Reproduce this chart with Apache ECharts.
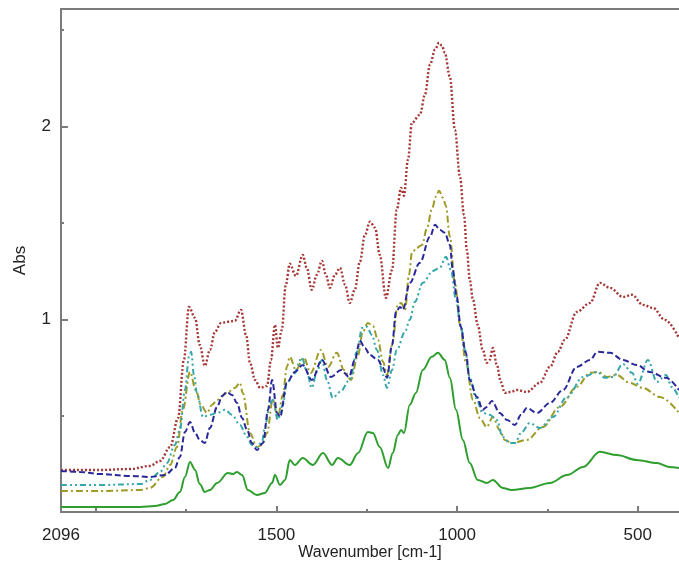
<!DOCTYPE html>
<html>
<head>
<meta charset="utf-8">
<title>Abs spectra</title>
<script src="https://cdn.jsdelivr.net/npm/echarts@6/dist/echarts.min.js"></script>
<style>
  html, body { margin: 0; padding: 0; background: #fff; }
  #chart { width: 679px; height: 562px; }
</style>
</head>
<body>
<div id="chart"></div>
<script>
// [wavenumber, abs] pairs
const redDotted = [
  [2096, 0.218], [1988, 0.218], [1905, 0.223], [1850, 0.239], [1822, 0.265], [1794, 0.337],
  [1772, 0.488], [1756, 0.789], [1742, 1.064], [1725, 1.007], [1712, 0.867], [1698, 0.758],
  [1684, 0.841], [1670, 0.935], [1653, 0.981], [1634, 0.987], [1615, 0.992], [1598, 1.049],
  [1584, 0.919], [1573, 0.774], [1559, 0.685], [1545, 0.644], [1526, 0.654], [1515, 0.789],
  [1504, 0.971], [1496, 0.851], [1485, 0.945], [1474, 1.179], [1463, 1.288], [1446, 1.225],
  [1427, 1.334], [1416, 1.267], [1402, 1.153], [1388, 1.231], [1374, 1.303], [1363, 1.231],
  [1352, 1.163], [1338, 1.231], [1324, 1.267], [1310, 1.179], [1297, 1.085], [1283, 1.153],
  [1269, 1.298], [1255, 1.438], [1241, 1.506], [1227, 1.475], [1214, 1.334], [1197, 1.111],
  [1180, 1.256], [1167, 1.568], [1155, 1.682], [1147, 1.641], [1136, 1.828], [1125, 2.020],
  [1103, 2.061], [1089, 2.165], [1075, 2.321], [1061, 2.399], [1050, 2.435], [1042, 2.420],
  [1034, 2.383], [1020, 2.259], [1006, 1.983], [992, 1.739], [981, 1.542], [973, 1.360],
  [965, 1.205], [956, 1.101], [943, 0.971], [929, 0.841], [918, 0.774], [910, 0.789],
  [901, 0.851], [890, 0.763], [879, 0.675], [868, 0.618], [851, 0.623], [835, 0.633],
  [807, 0.623], [771, 0.670], [743, 0.753], [721, 0.831], [702, 0.893], [669, 1.038],
  [632, 1.085], [605, 1.189], [577, 1.163], [541, 1.116], [516, 1.127], [486, 1.075],
  [458, 1.059], [425, 0.997], [386, 0.903]
];

const oliveDashDot = [
  [2096, 0.109], [1988, 0.109], [1877, 0.114], [1850, 0.125], [1814, 0.182], [1794, 0.244],
  [1775, 0.337], [1759, 0.530], [1739, 0.727], [1723, 0.633], [1709, 0.556], [1692, 0.514],
  [1678, 0.556], [1664, 0.582], [1637, 0.618], [1615, 0.644], [1601, 0.670], [1593, 0.618],
  [1573, 0.410], [1554, 0.337], [1540, 0.348], [1526, 0.410], [1510, 0.582], [1496, 0.493],
  [1482, 0.607], [1471, 0.753], [1463, 0.805], [1446, 0.737], [1424, 0.800], [1405, 0.722],
  [1377, 0.841], [1357, 0.753], [1333, 0.826], [1313, 0.737], [1294, 0.685], [1274, 0.815],
  [1261, 0.935], [1247, 0.981], [1233, 0.966], [1219, 0.893], [1205, 0.779], [1194, 0.711],
  [1180, 0.867], [1164, 1.075], [1155, 1.085], [1144, 1.049], [1133, 1.231], [1125, 1.345],
  [1111, 1.371], [1097, 1.386], [1083, 1.475], [1070, 1.568], [1059, 1.636], [1050, 1.667],
  [1039, 1.630], [1031, 1.589], [1020, 1.428], [1006, 1.189], [992, 0.971], [976, 0.779],
  [956, 0.582], [937, 0.488], [918, 0.441], [901, 0.493], [882, 0.426], [868, 0.374],
  [849, 0.358], [807, 0.374], [763, 0.441], [716, 0.545], [669, 0.649], [632, 0.722],
  [610, 0.727], [585, 0.701], [558, 0.711], [522, 0.670], [486, 0.644], [439, 0.597],
  [386, 0.514]
];

const blueDashed = [
  [2096, 0.213], [2043, 0.208], [1988, 0.197], [1905, 0.187], [1850, 0.182], [1808, 0.192],
  [1781, 0.228], [1767, 0.286], [1753, 0.415], [1739, 0.467], [1725, 0.410], [1712, 0.374],
  [1698, 0.358], [1684, 0.436], [1664, 0.545], [1650, 0.602], [1637, 0.623], [1623, 0.607],
  [1609, 0.566], [1595, 0.488], [1581, 0.426], [1568, 0.358], [1554, 0.322], [1537, 0.358],
  [1523, 0.530], [1512, 0.685], [1498, 0.514], [1490, 0.493], [1471, 0.670], [1449, 0.727],
  [1427, 0.763], [1402, 0.685], [1374, 0.789], [1349, 0.701], [1321, 0.737], [1299, 0.701],
  [1283, 0.789], [1269, 0.888], [1255, 0.851], [1241, 0.815], [1219, 0.789], [1205, 0.748],
  [1194, 0.696], [1180, 0.867], [1169, 1.038], [1158, 1.064], [1150, 1.049], [1131, 1.189],
  [1103, 1.293], [1075, 1.428], [1061, 1.490], [1048, 1.464], [1034, 1.449], [1020, 1.386],
  [1012, 1.256], [1001, 1.116], [990, 0.961], [976, 0.826], [965, 0.685], [945, 0.597],
  [929, 0.530], [918, 0.545], [904, 0.576], [882, 0.514], [862, 0.478], [840, 0.452],
  [823, 0.504], [807, 0.540], [779, 0.514], [743, 0.566], [707, 0.633], [669, 0.753],
  [632, 0.789], [612, 0.831], [577, 0.826], [541, 0.789], [503, 0.763], [467, 0.727],
  [422, 0.696], [386, 0.633]
];

const cyanDashDotDot = [
  [2096, 0.140], [1988, 0.140], [1877, 0.145], [1850, 0.166], [1822, 0.208], [1803, 0.254],
  [1781, 0.348], [1767, 0.426], [1753, 0.633], [1742, 0.805], [1736, 0.831], [1728, 0.711],
  [1720, 0.618], [1703, 0.493], [1684, 0.504], [1664, 0.514], [1642, 0.530], [1623, 0.504],
  [1601, 0.452], [1581, 0.389], [1568, 0.348], [1554, 0.337], [1540, 0.363], [1532, 0.441],
  [1518, 0.556], [1510, 0.582], [1496, 0.478], [1482, 0.556], [1471, 0.670], [1454, 0.711],
  [1429, 0.800], [1416, 0.727], [1402, 0.644], [1388, 0.727], [1374, 0.789], [1360, 0.685],
  [1344, 0.592], [1324, 0.623], [1297, 0.685], [1277, 0.831], [1263, 0.955], [1249, 0.961],
  [1236, 0.919], [1222, 0.841], [1205, 0.711], [1194, 0.644], [1180, 0.737], [1167, 0.841],
  [1144, 0.935], [1131, 0.997], [1117, 1.090], [1095, 1.189], [1067, 1.251], [1048, 1.267],
  [1031, 1.324], [1017, 1.256], [1003, 1.101], [990, 0.971], [978, 0.841], [965, 0.701],
  [948, 0.592], [929, 0.514], [910, 0.504], [890, 0.478], [874, 0.389], [854, 0.358],
  [840, 0.358], [821, 0.415], [799, 0.462], [771, 0.436], [735, 0.493], [696, 0.597],
  [651, 0.701], [612, 0.727], [591, 0.696], [569, 0.701], [541, 0.768], [516, 0.722],
  [500, 0.665], [472, 0.789], [447, 0.675], [422, 0.711], [406, 0.649], [386, 0.592]
];

const greenSolid = [
  [2096, 0.026], [1988, 0.026], [1877, 0.026], [1836, 0.031], [1808, 0.042], [1786, 0.062],
  [1767, 0.104], [1753, 0.182], [1739, 0.260], [1725, 0.218], [1712, 0.145], [1698, 0.104],
  [1684, 0.114], [1664, 0.151], [1634, 0.202], [1620, 0.197], [1609, 0.208], [1595, 0.192],
  [1579, 0.114], [1554, 0.088], [1532, 0.099], [1512, 0.151], [1504, 0.192], [1490, 0.140],
  [1476, 0.166], [1463, 0.270], [1449, 0.244], [1427, 0.280], [1399, 0.244], [1371, 0.306],
  [1346, 0.244], [1330, 0.280], [1297, 0.244], [1274, 0.306], [1247, 0.415], [1233, 0.410],
  [1214, 0.337], [1191, 0.228], [1178, 0.306], [1164, 0.400], [1155, 0.426], [1147, 0.410],
  [1131, 0.556], [1114, 0.618], [1095, 0.737], [1070, 0.805], [1053, 0.826], [1034, 0.789],
  [1020, 0.696], [1003, 0.530], [984, 0.374], [965, 0.254], [943, 0.166], [918, 0.151],
  [901, 0.166], [874, 0.125], [849, 0.114], [799, 0.125], [743, 0.151], [696, 0.192],
  [651, 0.234], [605, 0.312], [558, 0.296], [503, 0.270], [447, 0.254], [414, 0.234],
  [386, 0.228]
];

// axis ticks / labels
const xLabelValues = [2096, 1500, 1000, 500];
const xMajorTicks = [2000, 1500, 1000, 500];
const xMinorTicks = [1750, 1250, 750];
const yLabelValues = [1, 2];
const yMinorTicks = [0.5, 1.5, 2.5];

const X_MIN = 386;
const X_MAX = 2096;
const Y_MAX = 2.61;

const axisColor = "#7b7b7b";
const textColor = "#222";
const fontFamily = "Liberation Sans, Arial, sans-serif";

function makeLine(name, data, color, type, width) {
  return {
    name: name,
    type: "line",
    data: data,
    showSymbol: false,
    smooth: 0.35,
    smoothMonotone: "x",
    lineStyle: { color: color, width: width || 2, type: type },
    emphasis: { disabled: true },
  };
}

const chart = echarts.init(document.getElementById("chart"));

chart.setOption({
  animation: false,
  // fixed plot rect, don't let v6 shrink it for the labels
  grid: { left: 61, right: 0, top: 9, bottom: 50, outerBoundsMode: "none" },
  xAxis: [
    {
      // main axis: labels + major ticks
      type: "value",
      inverse: true,
      min: X_MIN,
      max: X_MAX,
      position: "bottom",
      name: "Wavenumber [cm-1]",
      nameLocation: "middle",
      nameGap: 33,
      nameMoveOverlap: false,
      nameTextStyle: { color: textColor, fontSize: 16, fontFamily: fontFamily },
      axisLine: { show: true, lineStyle: { color: axisColor, width: 2 } },
      axisTick: {
        show: true,
        inside: true,
        length: 6,
        customValues: xMajorTicks,
        lineStyle: { color: axisColor, width: 2 },
      },
      axisLabel: {
        customValues: xLabelValues,
        formatter: (v) => String(v),
        color: textColor,
        fontSize: 17,
        fontFamily: fontFamily,
        margin: 15,
      },
      splitLine: { show: false },
    },
    {
      // minor ticks only
      type: "value",
      inverse: true,
      min: X_MIN,
      max: X_MAX,
      position: "bottom",
      axisLine: { show: false },
      axisTick: {
        show: true,
        inside: true,
        length: 3,
        customValues: xMinorTicks,
        lineStyle: { color: axisColor, width: 2 },
      },
      axisLabel: { show: false },
      splitLine: { show: false },
    },
    {
      // top frame line
      type: "value",
      inverse: true,
      min: X_MIN,
      max: X_MAX,
      position: "top",
      axisLine: { show: true, lineStyle: { color: axisColor, width: 2 } },
      axisTick: { show: false },
      axisLabel: { show: false },
      splitLine: { show: false },
    },
  ],
  yAxis: [
    {
      type: "value",
      min: 0,
      max: Y_MAX,
      name: "Abs",
      nameLocation: "middle",
      nameGap: 32,
      nameMoveOverlap: false,
      nameRotate: 90,
      nameTextStyle: { color: textColor, fontSize: 17, fontFamily: fontFamily },
      axisLine: { show: true, lineStyle: { color: axisColor, width: 2 } },
      axisTick: {
        show: true,
        inside: true,
        length: 7,
        customValues: yLabelValues,
        lineStyle: { color: axisColor, width: 2 },
      },
      axisLabel: {
        customValues: yLabelValues,
        formatter: (v) => String(v),
        color: textColor,
        fontSize: 17,
        fontFamily: fontFamily,
        margin: 10,
      },
      splitLine: { show: false },
    },
    {
      type: "value",
      min: 0,
      max: Y_MAX,
      position: "left",
      axisLine: { show: false },
      axisTick: {
        show: true,
        inside: true,
        length: 3,
        customValues: yMinorTicks,
        lineStyle: { color: axisColor, width: 2 },
      },
      axisLabel: { show: false },
      splitLine: { show: false },
    },
  ],
  series: [
    makeLine("red", redDotted, "#a63636", [2, 2], 2.4),
    makeLine("olive", oliveDashDot, "#9d9b25", [7, 3, 2, 3]),
    makeLine("cyan", cyanDashDotDot, "#35a6ab", [6, 3, 2, 3, 2, 3]),
    makeLine("blue", blueDashed, "#28289a", [6, 3]),
    makeLine("green", greenSolid, "#2e9e2e", "solid"),
  ],
});
</script>
</body>
</html>
